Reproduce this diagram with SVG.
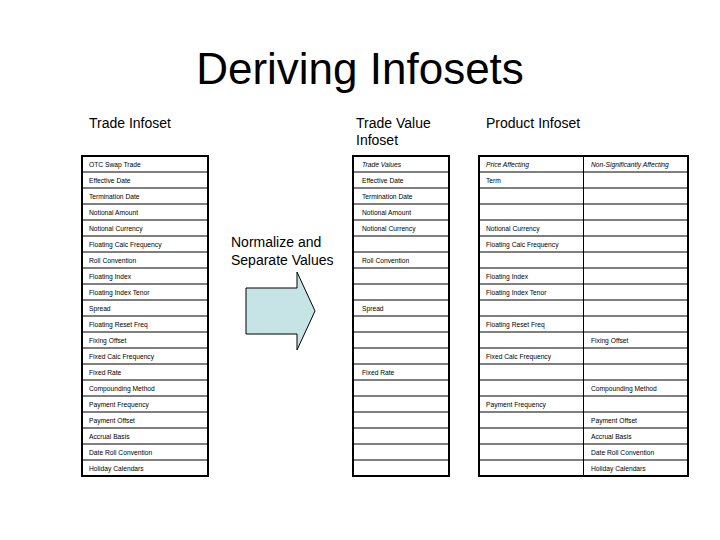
<svg xmlns="http://www.w3.org/2000/svg" width="720" height="540" viewBox="0 0 720 540">
<style>
text{font-family:"Liberation Sans",Arial,sans-serif;fill:#000}
.t{font-size:44px}
.h{font-size:14px}
.c{font-size:6.7px}
.i{font-style:italic}
.frame{fill:#fff;stroke:#000;stroke-width:2}
.grid{fill:none;stroke:#000;stroke-width:1}
.arrow{fill:#c6e4e6;stroke:#000;stroke-width:1}
</style>
<rect width="720" height="540" fill="#fff"/>
<g id="title"><text class="t" x="360" y="84" text-anchor="middle">Deriving Infosets</text></g>
<g id="headings">
<text class="h" x="89" y="128">Trade Infoset</text>
<text class="h" x="356" y="128">Trade Value</text>
<text class="h" x="356" y="145">Infoset</text>
<text class="h" x="486" y="128">Product Infoset</text>
</g>
<g id="trade-infoset">
<rect class="frame" x="82" y="156" width="126" height="320"/>
<path class="grid" d="M82 172H208M82 188H208M82 204H208M82 220H208M82 236H208M82 252H208M82 268H208M82 284H208M82 300H208M82 316H208M82 332H208M82 348H208M82 364H208M82 380H208M82 396H208M82 412H208M82 428H208M82 444H208M82 460H208"/>
<text class="c" x="89" y="166.5">OTC Swap Trade</text>
<text class="c" x="89" y="182.5">Effective Date</text>
<text class="c" x="89" y="198.5">Termination Date</text>
<text class="c" x="89" y="214.5">Notional Amount</text>
<text class="c" x="89" y="230.5">Notional Currency</text>
<text class="c" x="89" y="246.5">Floating Calc Frequency</text>
<text class="c" x="89" y="262.5">Roll Convention</text>
<text class="c" x="89" y="278.5">Floating Index</text>
<text class="c" x="89" y="294.5">Floating Index Tenor</text>
<text class="c" x="89" y="310.5">Spread</text>
<text class="c" x="89" y="326.5">Floating Reset Freq</text>
<text class="c" x="89" y="342.5">Fixing Offset</text>
<text class="c" x="89" y="358.5">Fixed Calc Frequency</text>
<text class="c" x="89" y="374.5">Fixed Rate</text>
<text class="c" x="89" y="390.5">Compounding Method</text>
<text class="c" x="89" y="406.5">Payment Frequency</text>
<text class="c" x="89" y="422.5">Payment Offset</text>
<text class="c" x="89" y="438.5">Accrual Basis</text>
<text class="c" x="89" y="454.5">Date Roll Convention</text>
<text class="c" x="89" y="470.5">Holiday Calendars</text>
</g>
<g id="normalize-label">
<text class="h" x="231" y="247">Normalize and</text>
<text class="h" x="231" y="265">Separate Values</text>
</g>
<g id="arrow">
<path class="arrow" d="M246 288H297V272L315 311L297 350V334H246Z"/>
</g>
<g id="trade-value-infoset">
<rect class="frame" x="353" y="156" width="96" height="320"/>
<path class="grid" d="M353 172H449M353 188H449M353 204H449M353 220H449M353 236H449M353 252H449M353 268H449M353 284H449M353 300H449M353 316H449M353 332H449M353 348H449M353 364H449M353 380H449M353 396H449M353 412H449M353 428H449M353 444H449M353 460H449"/>
<text class="c i" x="362" y="166.5">Trade Values</text>
<text class="c" x="362" y="182.5">Effective Date</text>
<text class="c" x="362" y="198.5">Termination Date</text>
<text class="c" x="362" y="214.5">Notional Amount</text>
<text class="c" x="362" y="230.5">Notional Currency</text>
<text class="c" x="362" y="262.5">Roll Convention</text>
<text class="c" x="362" y="310.5">Spread</text>
<text class="c" x="362" y="374.5">Fixed Rate</text>
</g>
<g id="product-infoset">
<rect class="frame" x="479" y="156" width="209" height="320"/>
<path class="grid" d="M583.5 156V476M479 172H688M479 188H688M479 204H688M479 220H688M479 236H688M479 252H688M479 268H688M479 284H688M479 300H688M479 316H688M479 332H688M479 348H688M479 364H688M479 380H688M479 396H688M479 412H688M479 428H688M479 444H688M479 460H688"/>
<text class="c i" x="486" y="166.5">Price Affecting</text>
<text class="c i" x="591" y="166.5">Non-Significantly Affecting</text>
<text class="c" x="486" y="182.5">Term</text>
<text class="c" x="486" y="230.5">Notional Currency</text>
<text class="c" x="486" y="246.5">Floating Calc Frequency</text>
<text class="c" x="486" y="278.5">Floating Index</text>
<text class="c" x="486" y="294.5">Floating Index Tenor</text>
<text class="c" x="486" y="326.5">Floating Reset Freq</text>
<text class="c" x="591" y="342.5">Fixing Offset</text>
<text class="c" x="486" y="358.5">Fixed Calc Frequency</text>
<text class="c" x="591" y="390.5">Compounding Method</text>
<text class="c" x="486" y="406.5">Payment Frequency</text>
<text class="c" x="591" y="422.5">Payment Offset</text>
<text class="c" x="591" y="438.5">Accrual Basis</text>
<text class="c" x="591" y="454.5">Date Roll Convention</text>
<text class="c" x="591" y="470.5">Holiday Calendars</text>
</g>
</svg>
